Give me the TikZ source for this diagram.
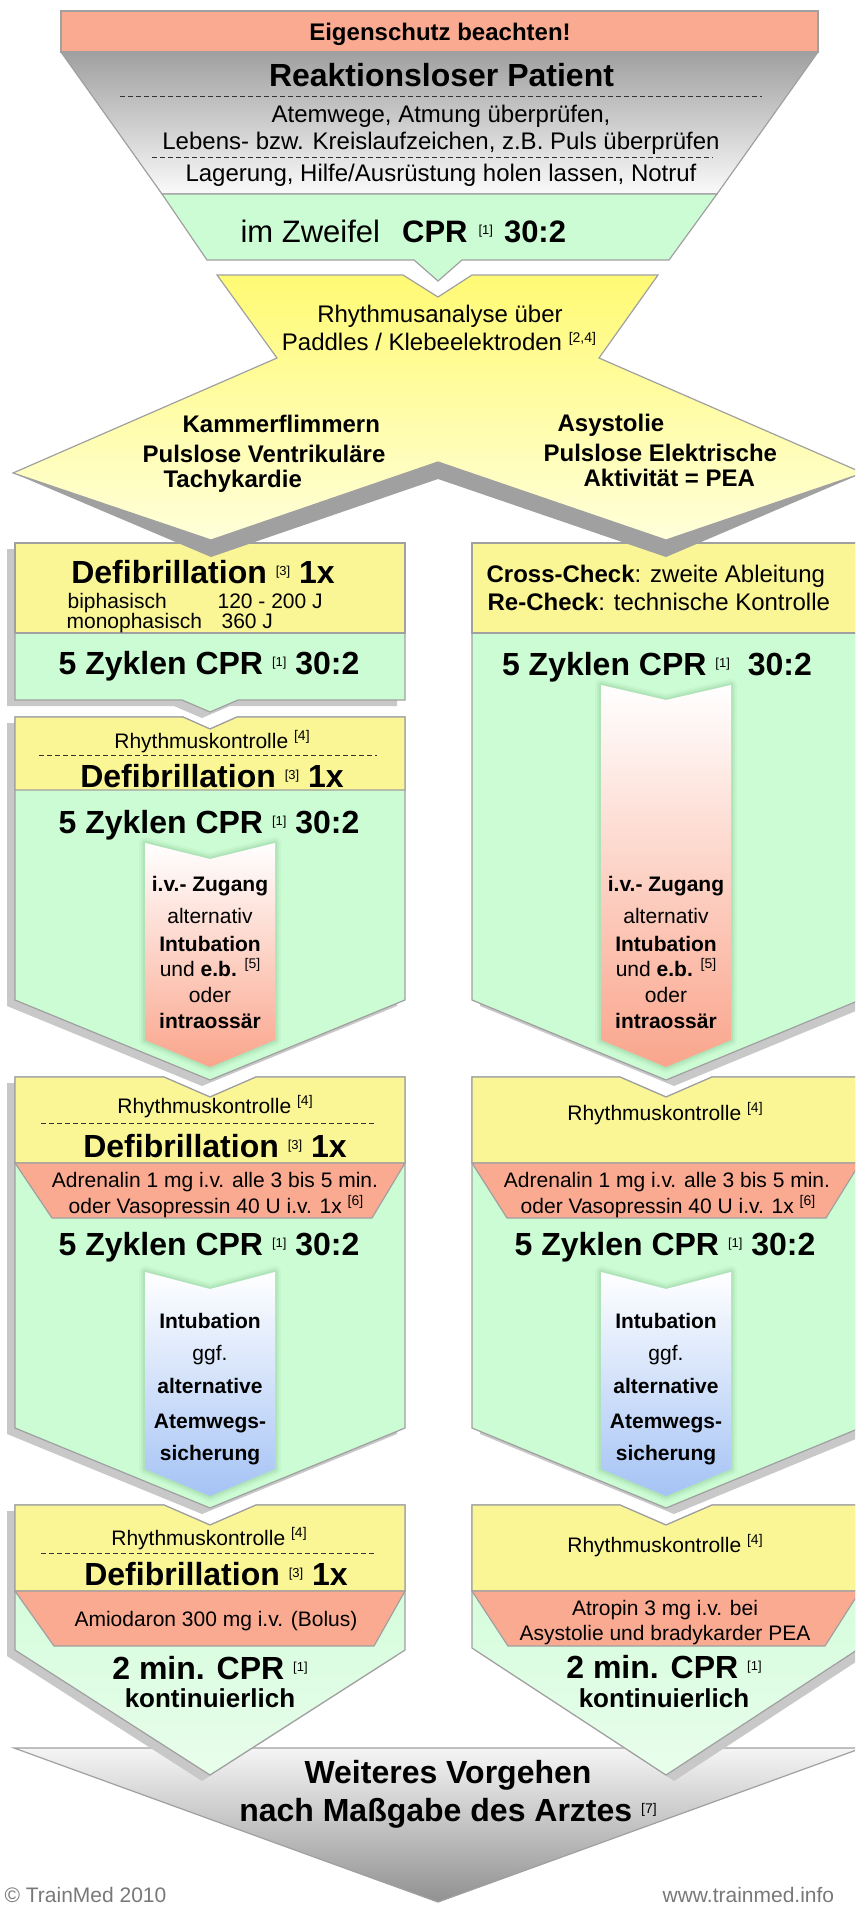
\documentclass[tikz,border=0pt]{standalone}
\usepackage{fontspec}
\setmainfont{Liberation Sans}
\usetikzlibrary{calc}
\definecolor{rimcol}{RGB}{160,160,160}
\definecolor{eigencol}{RGB}{250,170,145}
\definecolor{drugcol}{RGB}{250,170,145}
\definecolor{warncol}{RGB}{250,246,150}
\definecolor{curecol}{RGB}{204,252,212}
\definecolor{funneltop}{RGB}{160,160,160}
\definecolor{funnelbot}{RGB}{250,250,250}
\definecolor{diatop}{RGB}{255,250,115}
\definecolor{diabot}{RGB}{255,255,218}
\definecolor{dshadowcol}{RGB}{160,160,160}
\definecolor{shadowcol}{RGB}{200,200,200}
\definecolor{ivcol}{RGB}{250,165,140}
\definecolor{airwaycol}{RGB}{165,195,245}
\definecolor{glowcol}{RGB}{70,140,90}
\definecolor{finaltop}{RGB}{245,245,245}
\definecolor{finalbot}{RGB}{145,145,145}
\definecolor{footcol}{RGB}{120,120,120}

% literature marks like [1], [4]
\newcommand{\refmark}[2][14]{\raisebox{8pt}{\fontsize{#1}{#1}\selectfont\mdseries[#2]}}

\begin{document}
\begin{tikzpicture}[
    x=1pt, y=-1pt,
    line width=1.2pt,
    every node/.style={inner sep=0pt, anchor=base},
    headtxt/.style={font=\fontsize{32}{36}\selectfont\bfseries},
    midtxt/.style={font=\fontsize{24}{28}\selectfont},
    midbold/.style={font=\fontsize{24}{28}\selectfont\bfseries},
    smalltxt/.style={font=\fontsize{21}{25}\selectfont},
    smallbold/.style={font=\fontsize{21}{25}\selectfont\bfseries},
    rim/.style={draw=rimcol, line width=1.2pt},
    sepline/.style={draw=black!80, line width=1pt, dash pattern=on 5pt off 3pt},
    glow/.style={
      preaction={draw=glowcol, line width=12pt, opacity=0.05, line join=round},
      preaction={draw=glowcol, line width=8pt, opacity=0.07, line join=round},
      preaction={draw=glowcol, line width=4pt, opacity=0.10, line join=round}}
  ]

  % --- frame -------------------------------------------------------------
  \useasboundingbox (0,0) rectangle (855,1906);
  \clip (0,0) rectangle (855,1906);

  % --- own safety and first checks ---------------------------------------
  \draw[rim, fill=eigencol] (61,11) rectangle (818,52);
  \node[midbold] (eigen) at (440,40) {Eigenschutz beachten!};

  \shadedraw[rim, top color=funneltop, bottom color=funnelbot]
    (61,52) -- (818,52) -- (717,194) -- (162,194) -- cycle;
  \draw[rim, fill=curecol]
    (162,194) -- (717,194) -- (669,260) -- (462,260) -- (438,281) -- (414,260) -- (207,260) -- cycle;

  \node[headtxt] (patient) at (441.5,86) {Reaktionsloser Patient};
  \draw[sepline] (120,96) -- (762,96);
  \node[midtxt] (check1) at (441,122) {Atemwege, Atmung überprüfen,};
  \node[midtxt] (check2) at (441,149) {Lebens- bzw. Kreislaufzeichen, z.B. Puls überprüfen};
  \draw[sepline] (152,157) -- (713,157);
  \node[midtxt] (call) at (441,181) {Lagerung, Hilfe/Ausrüstung holen lassen, Notruf};
  \node[anchor=base west, font=\fontsize{31}{34}\selectfont] (doubt) at (240,242)
    {im Zweifel\hspace{22pt}\textbf{CPR}\hspace{11pt}\refmark[13]{1}\hspace{11pt}\textbf{30:2}};

  % --- first boxes below the analysis -------------------------------------
  \fill[shadowcol, shift={(-8,6)}]
    (15,543) -- (405,543) -- (405,700) -- (238,700) -- (210,712) -- (182,700) -- (15,700) -- cycle;
  \draw[rim, fill=curecol]
    (15,543) -- (405,543) -- (405,700) -- (238,700) -- (210,712) -- (182,700) -- (15,700) -- cycle;
  \draw[rim, fill=warncol] (15,543) rectangle (405,633);

  \fill[shadowcol, shift={(8,6)}]
    (472,543) -- (860,543) -- (860,1000) -- (666,1080) -- (472,1000) -- cycle;
  \draw[rim, fill=curecol]
    (472,543) -- (860,543) -- (860,1000) -- (666,1080) -- (472,1000) -- cycle;
  \draw[rim, fill=warncol] (472,543) rectangle (860,633);

  % --- rhythm analysis ----------------------------------------------------
  \fill[dshadowcol]
    (13,473) -- (211,540) -- (438,462) -- (666,540) -- (863,473)
    -- (666,557) -- (438,479) -- (211,557) -- cycle;
  \shadedraw[rim, top color=diatop, bottom color=diabot]
    (217,275) -- (403,275) -- (438,297) -- (472,275) -- (658,275) -- (599,358)
    -- (863,473) -- (666,540) -- (438,462) -- (211,540) -- (13,473) -- (277,358) -- cycle;

  \node[midtxt] (analysis1) at (440,322) {Rhythmusanalyse über};
  \node[midtxt] (analysis2) at (439,350) {Paddles / Klebeelektroden \refmark{2,4}};
  \node[midbold, anchor=base west] (vf1) at (182,432) {Kammerflimmern};
  \node[midbold, anchor=base west] (vf2) at (142,462) {Pulslose Ventrikuläre};
  \node[midbold, anchor=base west] (vf3) at (163,487) {Tachykardie};
  \node[midbold, anchor=base west] (as1) at (557,431) {Asystolie};
  \node[midbold, anchor=base west] (as2) at (543,461) {Pulslose Elektrische};
  \node[midbold, anchor=base west] (as3) at (583,486) {Aktivität = PEA};

  \node[headtxt] (defi1) at (203,583) {Defibrillation \refmark[13]{3} 1x};
  \node[smalltxt, anchor=base west] (bi) at (67,608) {biphasisch};
  \node[smalltxt, anchor=base west] (bij) at (217,608) {120 - 200 J};
  \node[smalltxt, anchor=base west] (mono) at (66,628) {monophasisch};
  \node[smalltxt, anchor=base west] (monoj) at (221,628) {360 J};
  \node[headtxt] (cpr1) at (209,674) {5 Zyklen CPR \refmark[13]{1} 30:2};

  \node[midtxt, anchor=base west] (cross) at (486,582) {\textbf{Cross-Check}: zweite Ableitung};
  \node[midtxt, anchor=base west] (recheck) at (487,610) {\textbf{Re-Check}: technische Kontrolle};
  \node[headtxt] (cpr1r) at (657,675) {5 Zyklen CPR \refmark[13]{1}\hspace{18pt}30:2};

  % --- second left box ----------------------------------------------------
  \fill[shadowcol, shift={(-8,6)}]
    (15,717) -- (183,717) -- (210,729) -- (237,717) -- (405,717) -- (405,1000) -- (210,1080) -- (15,1000) -- cycle;
  \draw[rim, fill=curecol]
    (15,717) -- (183,717) -- (210,729) -- (237,717) -- (405,717) -- (405,1000) -- (210,1080) -- (15,1000) -- cycle;
  \draw[rim, fill=warncol]
    (15,717) -- (183,717) -- (210,729) -- (237,717) -- (405,717) -- (405,790) -- (15,790) -- cycle;

  \node[smalltxt] (rk2) at (212,748) {Rhythmuskontrolle \refmark{4}};
  \draw[sepline] (39,755) -- (377,755);
  \node[headtxt] (defi2) at (212,787) {Defibrillation \refmark[13]{3} 1x};
  \node[headtxt] (cpr2) at (209,833) {5 Zyklen CPR \refmark[13]{1} 30:2};

  % --- vascular access arrows --------------------------------------------
  \shade[glow, top color=white, bottom color=ivcol]
    (145,843) -- (210,859) -- (275,843) -- (275,1040) -- (210,1067) -- (145,1040) -- cycle;
  \shade[glow, top color=white, bottom color=ivcol]
    (601,685) -- (666,700) -- (731,685) -- (731,1040) -- (666,1067) -- (601,1040) -- cycle;

  \node[smallbold] (ivl1) at (210,891) {i.v.- Zugang};
  \node[smalltxt] (ivl2) at (210,923) {alternativ};
  \node[smallbold] (ivl3) at (210,951) {Intubation};
  \node[smalltxt] (ivl4) at (210,976) {und \textbf{e.b.} \refmark{5}};
  \node[smalltxt] (ivl5) at (210,1002) {oder};
  \node[smallbold] (ivl6) at (210,1028) {intraossär};

  \node[smallbold] (ivr1) at (666,891) {i.v.- Zugang};
  \node[smalltxt] (ivr2) at (666,923) {alternativ};
  \node[smallbold] (ivr3) at (666,951) {Intubation};
  \node[smalltxt] (ivr4) at (666,976) {und \textbf{e.b.} \refmark{5}};
  \node[smalltxt] (ivr5) at (666,1002) {oder};
  \node[smallbold] (ivr6) at (666,1028) {intraossär};

  % --- third row: vasopressors --------------------------------------------
  \fill[shadowcol, shift={(-8,6)}]
    (15,1077) -- (164,1077) -- (210,1097) -- (256,1077) -- (405,1077) -- (405,1428) -- (210,1508) -- (15,1428) -- cycle;
  \draw[rim, fill=curecol]
    (15,1077) -- (164,1077) -- (210,1097) -- (256,1077) -- (405,1077) -- (405,1428) -- (210,1508) -- (15,1428) -- cycle;
  \draw[rim, fill=warncol]
    (15,1077) -- (164,1077) -- (210,1097) -- (256,1077) -- (405,1077) -- (405,1163) -- (15,1163) -- cycle;
  \draw[rim, fill=drugcol] (15,1163) -- (405,1163) -- (372,1218) -- (52,1218) -- cycle;

  \fill[shadowcol, shift={(8,6)}]
    (472,1077) -- (620,1077) -- (666,1097) -- (712,1077) -- (860,1077) -- (860,1428) -- (666,1508) -- (472,1428) -- cycle;
  \draw[rim, fill=curecol]
    (472,1077) -- (620,1077) -- (666,1097) -- (712,1077) -- (860,1077) -- (860,1428) -- (666,1508) -- (472,1428) -- cycle;
  \draw[rim, fill=warncol]
    (472,1077) -- (620,1077) -- (666,1097) -- (712,1077) -- (860,1077) -- (860,1163) -- (472,1163) -- cycle;
  \draw[rim, fill=drugcol] (472,1163) -- (860,1163) -- (826,1218) -- (507,1218) -- cycle;

  \node[smalltxt] (rk3) at (215,1113) {Rhythmuskontrolle \refmark{4}};
  \draw[sepline] (41,1123) -- (376,1123);
  \node[headtxt] (defi3) at (215,1157) {Defibrillation \refmark[13]{3} 1x};
  \node[smalltxt] (adr3) at (215,1187) {Adrenalin 1 mg i.v. alle 3 bis 5 min.};
  \node[smalltxt] (vaso3) at (216,1213) {oder Vasopressin 40 U i.v. 1x \refmark{6}};
  \node[headtxt] (cpr3) at (209,1255) {5 Zyklen CPR \refmark[13]{1} 30:2};

  \node[smalltxt] (rk3r) at (665,1120) {Rhythmuskontrolle \refmark{4}};
  \node[smalltxt] (adr3r) at (667,1187) {Adrenalin 1 mg i.v. alle 3 bis 5 min.};
  \node[smalltxt] (vaso3r) at (668,1213) {oder Vasopressin 40 U i.v. 1x \refmark{6}};
  \node[headtxt] (cpr3r) at (665,1255) {5 Zyklen CPR \refmark[13]{1} 30:2};

  % --- airway arrows ------------------------------------------------------
  \shade[glow, top color=white, bottom color=airwaycol]
    (145,1272) -- (210,1289) -- (275,1272) -- (275,1469) -- (210,1496) -- (145,1469) -- cycle;
  \shade[glow, top color=white, bottom color=airwaycol]
    (601,1272) -- (666,1289) -- (731,1272) -- (731,1469) -- (666,1496) -- (601,1469) -- cycle;

  \node[smallbold] (awl1) at (210,1328) {Intubation};
  \node[smalltxt] (awl2) at (210,1360) {ggf.};
  \node[smallbold] (awl3) at (210,1393) {alternative};
  \node[smallbold] (awl4) at (210,1428) {Atemwegs-};
  \node[smallbold] (awl5) at (210,1460) {sicherung};

  \node[smallbold] (awr1) at (666,1328) {Intubation};
  \node[smalltxt] (awr2) at (666,1360) {ggf.};
  \node[smallbold] (awr3) at (666,1393) {alternative};
  \node[smallbold] (awr4) at (666,1428) {Atemwegs-};
  \node[smallbold] (awr5) at (666,1460) {sicherung};

  % --- further procedure --------------------------------------------------
  \shadedraw[rim, top color=finaltop, bottom color=finalbot]
    (14,1748) -- (862,1748) -- (438,1902) -- cycle;

  % --- fourth row: antiarrhythmics ----------------------------------------
  \fill[shadowcol, shift={(-8,6)}]
    (15,1505) -- (164,1505) -- (210,1525) -- (256,1505) -- (405,1505) -- (405,1650) -- (210,1775) -- (15,1650) -- cycle;
  \shadedraw[rim, top color=curecol, middle color=curecol, bottom color=curecol!45!white]
    (15,1505) -- (164,1505) -- (210,1525) -- (256,1505) -- (405,1505) -- (405,1650) -- (210,1775) -- (15,1650) -- cycle;
  \draw[rim, fill=warncol]
    (15,1505) -- (164,1505) -- (210,1525) -- (256,1505) -- (405,1505) -- (405,1591) -- (15,1591) -- cycle;
  \draw[rim, fill=drugcol] (15,1591) -- (405,1591) -- (374,1646) -- (54,1646) -- cycle;

  \fill[shadowcol, shift={(8,6)}]
    (472,1505) -- (620,1505) -- (666,1525) -- (712,1505) -- (860,1505) -- (860,1648) -- (666,1775) -- (472,1648) -- cycle;
  \shadedraw[rim, top color=curecol, middle color=curecol, bottom color=curecol!45!white]
    (472,1505) -- (620,1505) -- (666,1525) -- (712,1505) -- (860,1505) -- (860,1648) -- (666,1775) -- (472,1648) -- cycle;
  \draw[rim, fill=warncol]
    (472,1505) -- (620,1505) -- (666,1525) -- (712,1505) -- (860,1505) -- (860,1591) -- (472,1591) -- cycle;
  \draw[rim, fill=drugcol] (472,1591) -- (860,1591) -- (825,1646) -- (508,1646) -- cycle;

  \node[smalltxt] (rk4) at (209,1545) {Rhythmuskontrolle \refmark{4}};
  \draw[sepline] (41,1553) -- (376,1553);
  \node[headtxt] (defi4) at (216,1585) {Defibrillation \refmark[13]{3} 1x};
  \node[smalltxt] (amio) at (216,1626) {Amiodaron 300 mg i.v. (Bolus)};
  \node[headtxt] (cpr4) at (210,1679) {2 min. CPR \refmark[13]{1}};
  \node[font=\fontsize{26}{30}\selectfont\bfseries] (cont4) at (210,1707) {kontinuierlich};

  \node[smalltxt] (rk4r) at (665,1552) {Rhythmuskontrolle \refmark{4}};
  \node[smalltxt] (atro1) at (665,1615) {Atropin 3 mg i.v. bei};
  \node[smalltxt] (atro2) at (665,1640) {Asystolie und bradykarder PEA};
  \node[headtxt] (cpr4r) at (664,1678) {2 min. CPR \refmark[13]{1}};
  \node[font=\fontsize{26}{30}\selectfont\bfseries] (cont4r) at (664,1707) {kontinuierlich};

  \node[headtxt] (further1) at (448,1783) {Weiteres Vorgehen};
  \node[headtxt] (further2) at (448,1821) {nach Maßgabe des Arztes \refmark[14]{7}};

  % --- footer -------------------------------------------------------------
  \node[font=\fontsize{21}{24}\selectfont, text=footcol, anchor=base west] (copy) at (4,1902) {© TrainMed 2010};
  \node[font=\fontsize{21}{24}\selectfont, text=footcol, anchor=base west] (web) at (662,1902) {www.trainmed.info};

\end{tikzpicture}
\end{document}
